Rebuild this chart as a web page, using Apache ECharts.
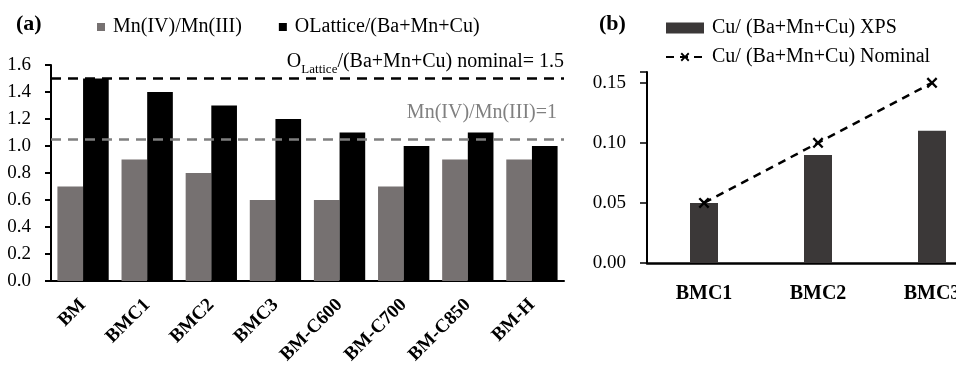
<!DOCTYPE html>
<html><head><meta charset="utf-8">
<script src="https://cdn.jsdelivr.net/npm/echarts@6/dist/echarts.min.js"></script>
<style>html,body{margin:0;padding:0;background:#fff}#c{width:956px;height:367px}</style>
</head><body><div id="c"></div>
<script>
// Panel (a)
const categoriesA = ['BM', 'BMC1', 'BMC2', 'BMC3', 'BM-C600', 'BM-C700', 'BM-C850', 'BM-H'];
const mnRatio = [0.7, 0.9, 0.8, 0.6, 0.6, 0.7, 0.9, 0.9];
const oLattice = [1.5, 1.4, 1.3, 1.2, 1.1, 1.0, 1.1, 1.0];
const oNominalLine = 1.5;
const mnRefLine = 1.05;
const yTicksA = [0, 0.2, 0.4, 0.6, 0.8, 1.0, 1.2, 1.4, 1.6];
// Panel (b)
const categoriesB = ['BMC1', 'BMC2', 'BMC3'];
const cuXps = [0.05, 0.09, 0.11];
const cuNominal = [0.05, 0.10, 0.15];
const yTicksB = [0, 0.05, 0.10, 0.15];

const FONT = 'Liberation Serif';
const chart = echarts.init(document.getElementById('c'), null, {renderer: 'canvas'});
const xMark = 'path://M0,1.5 L1.5,0 L5,3.5 L8.5,0 L10,1.5 L6.5,5 L10,8.5 L8.5,10 L5,6.5 L1.5,10 L0,8.5 L3.5,5 Z';

chart.setOption({
  animation: false,
  backgroundColor: '#fff',
  textStyle: {fontFamily: FONT},
  title: [
    {text: '(a)', left: 11, top: 8, textStyle: {fontFamily: FONT, fontSize: 22, fontWeight: 'bold', color: '#000'}},
    {text: '(b)', left: 594, top: 8, textStyle: {fontFamily: FONT, fontSize: 22, fontWeight: 'bold', color: '#000'}}
  ],
  legend: [
    {
      data: ['Mn(IV)/Mn(III)', 'OLattice/(Ba+Mn+Cu)'],
      left: 97, top: 17, padding: 0, itemWidth: 8, itemHeight: 8, itemGap: 37,
      icon: 'rect',
      textStyle: {fontFamily: FONT, fontSize: 20, color: '#000', padding: [0, 0, 0, 3]}
    },
    {
      data: [{name: 'Cu/ (Ba+Mn+Cu) XPS', icon: 'rect'}, {name: 'Cu/ (Ba+Mn+Cu) Nominal'}],
      orient: 'vertical', left: 665, top: 18, padding: 0, itemWidth: 38, itemHeight: 11, itemGap: 9,
      textStyle: {fontFamily: FONT, fontSize: 20, color: '#000', lineHeight: 20, padding: [0, 0, 0, 3]}
    }
  ],
  grid: [
    {left: 51, right: 392, top: 65, bottom: 86, outerBoundsMode: 'none'},
    {left: 647, width: 342, top: 72, bottom: 104, outerBoundsMode: 'none'}
  ],
  xAxis: [
    {
      type: 'category', gridIndex: 0, data: categoriesA,
      axisLine: {lineStyle: {color: '#000', width: 2}},
      axisTick: {alignWithLabel: true, length: 6, lineStyle: {color: '#000', width: 2}},
      axisLabel: {rotate: 45, margin: 21, fontFamily: FONT, fontSize: 19, fontWeight: 'bold', color: '#000'}
    },
    {
      type: 'category', gridIndex: 1, data: categoriesB,
      axisLine: {lineStyle: {color: '#000', width: 2.5}},
      axisTick: {alignWithLabel: true, length: 6, lineStyle: {color: '#000', width: 2}},
      axisLabel: {margin: 21, fontFamily: FONT, fontSize: 20, fontWeight: 'bold', color: '#000', hideOverlap: false}
    }
  ],
  yAxis: [
    {
      type: 'value', gridIndex: 0, min: yTicksA[0], max: yTicksA[yTicksA.length - 1], interval: 0.2,
      splitLine: {show: false},
      axisLine: {show: true, lineStyle: {color: '#000', width: 2}},
      axisTick: {show: true, length: 6, lineStyle: {color: '#000', width: 2}},
      axisLabel: {margin: 20, fontFamily: FONT, fontSize: 19, color: '#000', formatter: v => v.toFixed(1)}
    },
    {
      type: 'value', gridIndex: 1, min: yTicksB[0], max: 0.159, interval: 0.05,
      splitLine: {show: false},
      axisLine: {show: true, lineStyle: {color: '#000', width: 2}},
      axisTick: {show: true, length: 7, lineStyle: {color: '#000', width: 1.5}},
      axisLabel: {margin: 21, fontFamily: FONT, fontSize: 19, color: '#000',
        formatter: v => yTicksB.some(t => Math.abs(t - v) < 1e-9) ? v.toFixed(2) : ''}
    }
  ],
  series: [
    {
      name: 'Mn(IV)/Mn(III)', type: 'bar', xAxisIndex: 0, yAxisIndex: 0, data: mnRatio,
      itemStyle: {color: '#767171'}, barGap: '0%', barCategoryGap: '20%',
      markLine: {
        silent: true, symbol: 'none',
        data: [
          {
            yAxis: oNominalLine,
            lineStyle: {color: '#000', type: [10, 7], width: 2.5},
            label: {
              position: 'insideEndTop', distance: [0, 6],
              formatter: '{o|O}{s|Lattice}{o|/(Ba+Mn+Cu) nominal= 1.5}',
              rich: {
                o: {fontFamily: FONT, fontSize: 20, color: '#000', lineHeight: 22},
                s: {fontFamily: FONT, fontSize: 13, color: '#000', verticalAlign: 'bottom', lineHeight: 22, padding: [0, 0, -4, 0]}
              }
            }
          },
          {
            yAxis: mnRefLine,
            lineStyle: {color: '#7f7f7f', type: [10, 7], width: 2.5},
            label: {
              position: 'insideEndTop', distance: [7, 17],
              formatter: 'Mn(IV)/Mn(III)=1',
              fontFamily: FONT, fontSize: 20, color: '#808080'
            }
          }
        ]
      }
    },
    {
      name: 'OLattice/(Ba+Mn+Cu)', type: 'bar', xAxisIndex: 0, yAxisIndex: 0, data: oLattice,
      itemStyle: {color: '#000'}, barGap: '0%', barCategoryGap: '20%'
    },
    {
      name: 'Cu/ (Ba+Mn+Cu) XPS', type: 'bar', xAxisIndex: 1, yAxisIndex: 1, data: cuXps,
      itemStyle: {color: '#3b3838'}, barWidth: 28
    },
    {
      name: 'Cu/ (Ba+Mn+Cu) Nominal', type: 'line', xAxisIndex: 1, yAxisIndex: 1, data: cuNominal,
      lineStyle: {color: '#000', type: [8, 6], width: 2.5},
      itemStyle: {color: '#000'},
      symbol: xMark, symbolSize: 11, z: 5
    }
  ]
});
</script></body></html>
